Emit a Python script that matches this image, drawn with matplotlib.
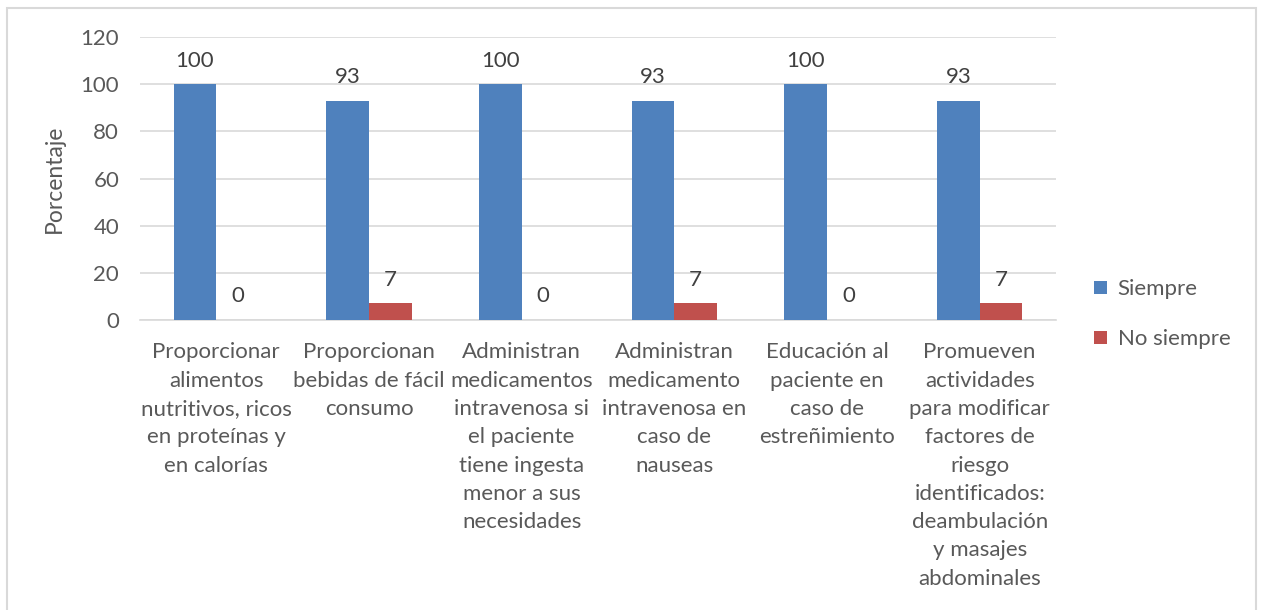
import matplotlib
matplotlib.use("Agg")
import matplotlib.pyplot as plt
import numpy as np
from matplotlib.patches import Rectangle

plt.rcParams["font.family"] = ["Lato", "DejaVu Sans"]

categories = [
    "Proporcionar\nalimentos\nnutritivos, ricos\nen proteínas y\nen calorías",
    "Proporcionan\nbebidas de fácil\nconsumo",
    "Administran\nmedicamentos\nintravenosa si\nel paciente\ntiene ingesta\nmenor a sus\nnecesidades",
    "Administran\nmedicamento\nintravenosa en\ncaso de\nnauseas",
    "Educación al\npaciente en\ncaso de\nestreñimiento",
    "Promueven\nactividades\npara modificar\nfactores de\nriesgo\nidentificados:\ndeambulación\ny masajes\nabdominales",
]
siempre = [100, 93, 100, 93, 100, 93]
no_siempre = [0, 7, 0, 7, 0, 7]
y_ticks = [0, 20, 40, 60, 80, 100, 120]

BLUE = "#4F81BD"
RED = "#C0504D"
GRID = "#D9D9D9"
TEXT = "#595959"
FS = 16

fig = plt.figure(figsize=(12.61, 6.10), dpi=100)
ax = fig.add_axes([0.111, 0.4754, 0.7264, 0.4639])

x = np.arange(len(categories))
w = 0.28
b1 = ax.bar(x - w / 2, siempre, w, color=BLUE, label="Siempre", zorder=3)
b2 = ax.bar(x + w / 2, no_siempre, w, color=RED, label="No siempre", zorder=3)

for bars in (b1, b2):
    for rect in bars:
        h = rect.get_height()
        ax.annotate(f"{h:g}", (rect.get_x() + rect.get_width() / 2, h),
                    xytext=(0, 17), textcoords="offset points",
                    ha="center", va="center", fontsize=FS, color="#404040")

ax.set_xlim(-0.5, len(categories) - 0.5)
ax.set_ylim(0, 120)
ax.set_yticks(y_ticks)
ax.yaxis.grid(True, color=GRID, linewidth=1.2, zorder=0)
ax.set_axisbelow(True)
for s in ("top", "right", "left"):
    ax.spines[s].set_visible(False)
ax.spines["bottom"].set_color(GRID)
ax.spines["bottom"].set_linewidth(1.2)
ax.tick_params(length=0, labelsize=FS, colors=TEXT)
ax.tick_params(axis="y", pad=15)
ax.set_xticks(x)
ax.set_xticklabels(categories, linespacing=1.52)
ax.tick_params(axis="x", pad=16)
ax.set_ylabel("Porcentaje", fontsize=FS + 0.5, color=TEXT, labelpad=11)

leg = ax.legend(loc="center left", bbox_to_anchor=(1.02, 0.02), frameon=False,
                fontsize=FS, handlelength=0.55, handleheight=0.55,
                labelspacing=1.35, handletextpad=0.5)
for t in leg.get_texts():
    t.set_color(TEXT)

fig.patches.append(Rectangle((7 / 1261, -0.05), 1249 / 1261, 1.05 - 8 / 610,
                             transform=fig.transFigure, fill=False,
                             edgecolor=GRID, linewidth=1.5))

fig.savefig("out.png", dpi=100)
